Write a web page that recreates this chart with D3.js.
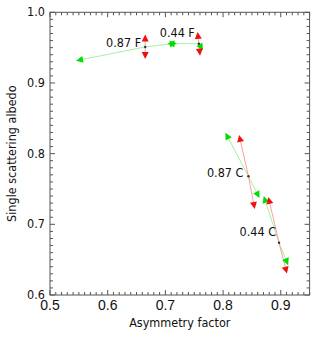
<!DOCTYPE html>
<html>
<head>
<meta charset="utf-8">
<script src="https://cdn.jsdelivr.net/npm/d3@7"></script>
<style>
  body { margin: 0; background: #fff; }
  svg text { font-family: "DejaVu Sans", sans-serif; font-stretch: condensed; fill: #111; }
</style>
</head>
<body>
<svg id="chart" width="320" height="339"></svg>
<script>
// case names and their central point (asymmetry factor, single scattering albedo)
const cases = ["0.87 F", "0.44 F", "0.87 C", "0.44 C"];
const asym = [0.665, 0.758, 0.844, 0.897];
const albedo = [0.951, 0.9556, 0.768, 0.674];

// green arrow ends
const greenA_g = [0.552, 0.7106, 0.8073, 0.8726];
const greenA_w = [0.9326, 0.9556, 0.8247, 0.7347];
const greenB_g = [0.713, 0.7617, 0.860, 0.9102];
const greenB_w = [0.9556, 0.951, 0.7422, 0.6475];

// red arrow ends
const redA_g = [0.665, 0.7565, 0.8293, 0.880];
const redA_w = [0.963, 0.9665, 0.8209, 0.7333];
const redB_g = [0.665, 0.7594, 0.8536, 0.909];
const redB_w = [0.9396, 0.9443, 0.7272, 0.6358];

const xTicks = [0.5, 0.6, 0.7, 0.8, 0.9];
const yTicks = [0.6, 0.7, 0.8, 0.9, 1.0];

// label offsets from the centre point (px)
const labelOffset = [[-4, 0], [-4, -7], [-5, 1], [-3, -7]];

(function (d3) {
    'use strict';

    const svg = d3.select("#chart");
    const left = 50, right = 309.6, top = 12.3, bottom = 295;

    const x = d3.scaleLinear().domain([0.5, 0.95]).range([left, right]);
    const y = d3.scaleLinear().domain([0.6, 1.0]).range([bottom, top]);

    const frame = "#555";

    // minor ticks every 0.01
    const xMinor = d3.range(50, 96).map(v => v / 100);
    const yMinor = d3.range(60, 101).map(v => v / 100);

    const g = svg.append("g");

    function tickLen(v) {
        return Math.abs(Math.round(v * 100) % 10) === 0 ? 5 : 3;
    }

    g.selectAll(".xtb").data(xMinor).enter().append("line")
        .attr("x1", d => x(d)).attr("x2", d => x(d))
        .attr("y1", bottom).attr("y2", d => bottom - tickLen(d))
        .attr("stroke", frame);
    g.selectAll(".xtt").data(xMinor).enter().append("line")
        .attr("x1", d => x(d)).attr("x2", d => x(d))
        .attr("y1", top).attr("y2", d => top + tickLen(d))
        .attr("stroke", frame);
    g.selectAll(".ytl").data(yMinor).enter().append("line")
        .attr("y1", d => y(d)).attr("y2", d => y(d))
        .attr("x1", left).attr("x2", d => left + tickLen(d))
        .attr("stroke", frame);
    g.selectAll(".ytr").data(yMinor).enter().append("line")
        .attr("y1", d => y(d)).attr("y2", d => y(d))
        .attr("x1", right).attr("x2", d => right - tickLen(d))
        .attr("stroke", frame);

    g.append("rect")
        .attr("x", left).attr("y", top)
        .attr("width", right - left).attr("height", bottom - top)
        .attr("fill", "none").attr("stroke", frame);

    // tick labels
    g.selectAll(".xl").data(xTicks).enter().append("text")
        .attr("x", d => x(d)).attr("y", 310)
        .attr("text-anchor", "middle")
        .style("font-family", "'Liberation Sans', Arial, sans-serif")
        .style("font-stretch", "normal")
        .style("font-size", "14px")
        .text(d => d3.format(".1f")(d));

    g.selectAll(".yl").data(yTicks).enter().append("text")
        .attr("x", left - 5).attr("y", d => y(d) + 4)
        .attr("text-anchor", "end")
        .style("font-size", "12.5px")
        .text(d => d3.format(".1f")(d));

    // axis titles
    g.append("text")
        .attr("x", (left + right) / 2).attr("y", 327)
        .attr("text-anchor", "middle")
        .style("font-size", "12.5px")
        .text("Asymmetry factor");

    g.append("text")
        .attr("transform", `translate(16,${(top + bottom) / 2}) rotate(-90)`)
        .attr("text-anchor", "middle")
        .style("font-size", "12.5px")
        .text("Single scattering albedo");

    // arrows from each centre point
    const arrows = [];
    cases.forEach((c, i) => {
        arrows.push({ i, gx: greenA_g[i], wy: greenA_w[i], col: "#00dd00", line: "#a6f0a6" });
        arrows.push({ i, gx: greenB_g[i], wy: greenB_w[i], col: "#00dd00", line: "#a6f0a6" });
        arrows.push({ i, gx: redA_g[i], wy: redA_w[i], col: "#ee1111", line: "#ffa0a0" });
        arrows.push({ i, gx: redB_g[i], wy: redB_w[i], col: "#ee1111", line: "#ffa0a0" });
    });

    const a = g.append("g");
    a.selectAll("line").data(arrows).enter().append("line")
        .attr("x1", d => x(asym[d.i])).attr("y1", d => y(albedo[d.i]))
        .attr("x2", d => x(d.gx)).attr("y2", d => y(d.wy))
        .attr("stroke", d => d.line).attr("stroke-width", 1);

    a.selectAll("path").data(arrows).enter().append("path")
        .attr("d", "M4,0 L-3,-3.5 L-3,3.5 Z")
        .attr("fill", d => d.col)
        .attr("transform", d => {
            const x0 = x(asym[d.i]), y0 = y(albedo[d.i]);
            const x1 = x(d.gx), y1 = y(d.wy);
            const ang = Math.atan2(y1 - y0, x1 - x0) * 180 / Math.PI;
            return "translate(" + x1 + "," + y1 + ") rotate(" + ang + ")";
        });

    g.selectAll(".dot").data(cases).enter().append("circle")
        .attr("cx", (d, i) => x(asym[i])).attr("cy", (d, i) => y(albedo[i]))
        .attr("r", 1.2).attr("fill", "#333");

    g.selectAll(".lab").data(cases).enter().append("text")
        .attr("x", (d, i) => x(asym[i]) + labelOffset[i][0])
        .attr("y", (d, i) => y(albedo[i]) + labelOffset[i][1])
        .attr("text-anchor", "end")
        .style("font-size", "12.5px")
        .text(d => d);

}(d3));
</script>
</body>
</html>
